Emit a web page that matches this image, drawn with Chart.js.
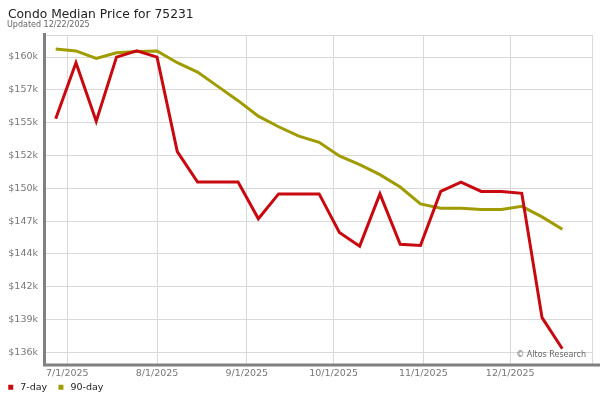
<!DOCTYPE html>
<html>
<head>
<meta charset="utf-8">
<title>Condo Median Price for 75231</title>
<script src="https://cdn.jsdelivr.net/npm/chart.js@4.4.1/dist/chart.umd.min.js"></script>
<style>
	body { margin: 0; background: #fff; }
</style>
</head>
<body>
<canvas id="myChart" width="600" height="400"></canvas>
<script>

	// weekly samples
	var weeks = [
		'2025-06-27', '2025-07-04', '2025-07-11', '2025-07-18', '2025-07-25',
		'2025-08-01', '2025-08-08', '2025-08-15', '2025-08-22', '2025-08-29',
		'2025-09-05', '2025-09-12', '2025-09-19', '2025-09-26', '2025-10-03',
		'2025-10-10', '2025-10-17', '2025-10-24', '2025-10-31', '2025-11-07',
		'2025-11-14', '2025-11-21', '2025-11-28', '2025-12-05', '2025-12-12',
		'2025-12-19'
	];
	var sevenDay = [
		155100, 159600, 154900, 160050, 160550,
		160050, 152450, 150000, 150000, 150000,
		147050, 149050, 149050, 149050, 145950,
		144850, 149050, 145000, 144900, 149250,
		150000, 149250, 149250, 149100, 139100,
		136600
	];
	var ninetyDay = [
		160700, 160550, 159950, 160400, 160500,
		160550, 159600, 158850, 157700, 156550,
		155300, 154450, 153700, 153200, 152100,
		151400, 150600, 149600, 148250, 147900,
		147900, 147800, 147800, 148050, 147200,
		146200
	];

	var monthTicks = ['2025-07-01', '2025-08-01', '2025-09-01', '2025-10-01', '2025-11-01', '2025-12-01'];
	var monthLabels = ['7/1/2025', '8/1/2025', '9/1/2025', '10/1/2025', '11/1/2025', '12/1/2025'];

	var yTickValues = [136300, 138940, 141580, 144220, 146860, 149500, 152140, 154780, 157420, 160060];
	var yTickLabels = ['$136k', '$139k', '$142k', '$144k', '$147k', '$150k', '$152k', '$155k', '$157k', '$160k'];

	function dayOf(s) {
		return (Date.parse(s) - Date.parse('2025-07-01')) / 86400000;
	}

	function points(values) {
		return values.map(function(v, i) {
			return {x: dayOf(weeks[i]), y: v};
		});
	}

	var gridColor = '#d9d9d9';
	var tickColor = '#777';
	var font = '"DejaVu Sans", Verdana, sans-serif';

	// title, frame, axis lines, watermark
	var decor = {
		id: 'decor',
		afterLayout: function(chart) {
			// let the date labels run under the legend box, nudge legend left
			chart.scales.x.bottom = chart.height;
			chart.legend.left -= 3;
		},
		beforeDatasetsDraw: function(chart) {
			var a = chart.chartArea;
			var ctx = chart.ctx;
			ctx.save();
			ctx.strokeStyle = gridColor;
			ctx.lineWidth = 1;
			ctx.strokeRect(a.left + 0.5, a.top + 0.5, a.right - a.left - 1, a.bottom - a.top);
			ctx.restore();
		},
		afterDraw: function(chart) {
			var a = chart.chartArea;
			var ctx = chart.ctx;
			ctx.save();

			ctx.strokeStyle = '#808080';
			ctx.lineWidth = 3;
			ctx.beginPath();
			ctx.moveTo(a.left - 0.5, a.top - 2);
			ctx.lineTo(a.left - 0.5, a.bottom + 2);
			ctx.moveTo(a.left - 2, a.bottom + 0.5);
			ctx.lineTo(chart.width, a.bottom + 0.5);
			ctx.stroke();

			ctx.fillStyle = '#222';
			ctx.font = '12.3px ' + font;
			ctx.textAlign = 'left';
			ctx.textBaseline = 'alphabetic';
			ctx.fillText('Condo Median Price for 75231', 8, 17.5);

			ctx.fillStyle = '#666';
			ctx.font = '8px ' + font;
			ctx.fillText('Updated 12/22/2025', 7, 27);

			ctx.textAlign = 'right';
			ctx.fillText('\u00a9 Altos Research', a.right - 7, 357);
			ctx.restore();
		}
	};

	var ctx = document.getElementById('myChart');

	var myChart = new Chart(ctx, {
		type: 'line',
		data: {
			datasets: [
				{
					label: '7-day',
					data: points(sevenDay),
					borderColor: '#c8090f',
					backgroundColor: '#c8090f',
					borderWidth: 3,
					pointRadius: 0,
					tension: 0
				},
				{
					label: '90-day',
					data: points(ninetyDay),
					borderColor: '#9f9b00',
					backgroundColor: '#9f9b00',
					borderWidth: 3,
					pointRadius: 0,
					tension: 0
				}
			]
		},
		options: {
			responsive: false,
			animation: false,
			layout: {
				padding: {top: 35, right: 7, bottom: -2, left: 0}
			},
			scales: {
				x: {
					type: 'linear',
					min: -7.7,
					max: 181.6,
					afterFit: function(scale) { scale.height = 9; },
					afterBuildTicks: function(scale) {
						scale.ticks = monthTicks.map(function(d) { return {value: dayOf(d)}; });
					},
					grid: {color: gridColor, drawTicks: false},
					border: {display: false},
					ticks: {
						autoSkip: false,
						maxRotation: 0,
						padding: 3,
						color: tickColor,
						font: {family: font, size: 9.5},
						callback: function(value, index) { return monthLabels[index]; }
					}
				},
				y: {
					min: 135330,
					max: 161830,
					afterFit: function(scale) { scale.width = 45; },
					afterBuildTicks: function(scale) {
						scale.ticks = yTickValues.map(function(v) { return {value: v}; });
					},
					grid: {color: gridColor, drawTicks: false},
					border: {display: false},
					ticks: {
						padding: 7,
						color: tickColor,
						font: {family: font, size: 9.5},
						callback: function(value, index) { return yTickLabels[index]; }
					}
				}
			},
			plugins: {
				legend: {
					position: 'bottom',
					align: 'start',
					labels: {
						usePointStyle: true,
						pointStyle: 'rect',
						boxWidth: 10,
						boxHeight: 5,
						padding: 9,
						color: '#222',
						font: {family: font, size: 9.5},
						generateLabels: function(chart) {
							var items = Chart.defaults.plugins.legend.labels.generateLabels(chart);
							items.forEach(function(it) { it.lineWidth = 0; });
							return items;
						}
					}
				},
				tooltip: {enabled: false}
			}
		},
		plugins: [decor]
	});

</script>
</body>
</html>
